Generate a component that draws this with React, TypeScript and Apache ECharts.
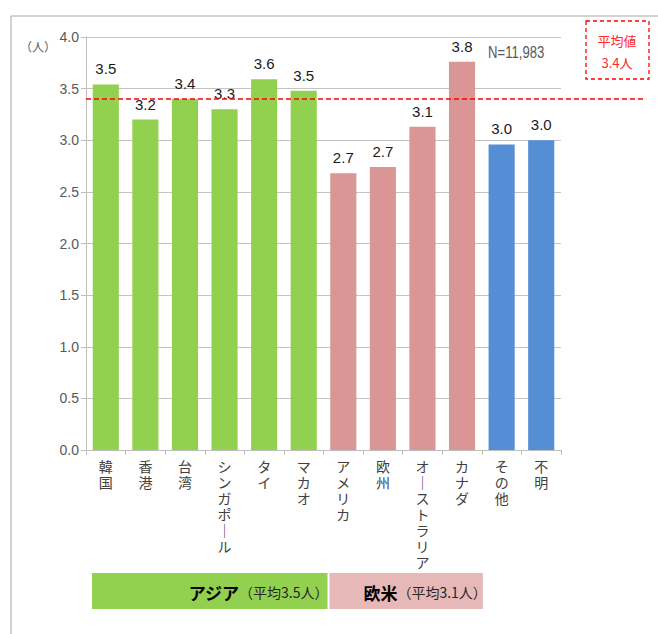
import React, { useEffect, useRef } from "react";
import * as echarts from "echarts";

const categories = ["韓国", "香港", "台湾", "シンガポール", "タイ", "マカオ", "アメリカ", "欧州", "オーストラリア", "カナダ", "その他", "不明"];
const values = [3.54, 3.2, 3.4, 3.3, 3.59, 3.48, 2.68, 2.74, 3.13, 3.76, 2.96, 3.0];
const groupOf = ["asia", "asia", "asia", "asia", "asia", "asia", "west", "west", "west", "west", "other", "other"];
const average = 3.4;
const sampleLabel = "N=11,983";
const unitLabel = "（人）";
const asiaName = "アジア";
const asiaNote = "（平均3.5人）";
const westName = "欧米";
const westNote = "（平均3.1人）";
const yMin = 0;
const yMax = 4;
const yInterval = 0.5;

const groupColors: Record<string, string> = {
  asia: "#92d050",
  west: "#d99694",
  other: "#558ed5",
};

const LATIN = "'Liberation Sans', Arial, 'Noto Sans CJK JP', sans-serif";
const CJK = "'Noto Sans CJK JP', 'Liberation Sans', sans-serif";

export default function App() {
  const ref = useRef<HTMLDivElement>(null);
  useEffect(() => {
    document.body.style.margin = "0";
    const chart = echarts.init(ref.current as HTMLDivElement, null, { renderer: "svg" });
    chart.setOption({
      animation: false,
      backgroundColor: "#ffffff",
      grid: { left: 86, top: 37, right: 97, bottom: 184, containLabel: false },
      xAxis: {
        type: "category",
        data: categories,
        axisLine: { lineStyle: { color: "#bfbfbf", width: 1 } },
        axisTick: { show: true, length: 5, lineStyle: { color: "#bfbfbf" } },
        axisLabel: {
          interval: 0,
          margin: 9,
          color: "#404040",
          fontFamily: LATIN,
          fontSize: 14,
          lineHeight: 16,
          verticalAlign: "top",
          formatter: (v: string) =>
            v
              .split("")
              .map((c) => (c === "ー" ? "｜" : c))
              .join("\n"),
        },
      },
      yAxis: {
        type: "value",
        min: yMin,
        max: yMax,
        interval: yInterval,
        axisLine: { show: true, lineStyle: { color: "#bfbfbf", width: 1 } },
        axisTick: { show: true, length: 5, lineStyle: { color: "#bfbfbf" } },
        splitLine: { lineStyle: { color: "#c4c4c4", width: 1 } },
        axisLabel: {
          color: "#595959",
          fontFamily: LATIN,
          fontSize: 14,
          margin: 7,
          formatter: (v: number) => v.toFixed(1),
        },
      },
      series: [
        {
          type: "bar",
          data: values.map((v, i) => ({ value: v, itemStyle: { color: groupColors[groupOf[i]] } })),
          barCategoryGap: "34%",
          label: {
            show: true,
            position: "top",
            distance: 8,
            color: "#1a1a1a",
            fontFamily: LATIN,
            fontSize: 15,
            formatter: (p: any) => Number(p.value).toFixed(1),
          },
        },
      ],
    });

    const avgY = chart.convertToPixel({ yAxisIndex: 0 }, average) as number;
    const leftX = chart.convertToPixel({ xAxisIndex: 0 }, 0) as number;
    const catW = (chart.convertToPixel({ xAxisIndex: 0 }, 1) as number) - leftX;
    const plotLeft = leftX - catW / 2;
    const boundary = (i: number) => plotLeft + catW * i;

    chart.setOption({
      graphic: [
        { type: "line", shape: { x1: 11, y1: 16, x2: 658, y2: 16 }, style: { stroke: "#a6a6a6", lineWidth: 1 }, silent: true },
        { type: "line", shape: { x1: 11, y1: 16, x2: 11, y2: 634 }, style: { stroke: "#a6a6a6", lineWidth: 1 }, silent: true },
        {
          type: "line",
          shape: { x1: plotLeft, y1: avgY, x2: 645, y2: avgY },
          style: { stroke: "#ff0000", lineWidth: 1.5, lineDash: [5, 3] },
          z: 100,
          silent: true,
        },
        {
          type: "rect",
          shape: { x: 586, y: 21, width: 63, height: 58 },
          style: { fill: "none", stroke: "#ff0000", lineWidth: 1.3, lineDash: [4, 3] },
          silent: true,
        },
        {
          type: "text",
          x: 617,
          y: 40,
          style: { text: "平均値", fill: "#ff2a2a", font: `13px ${CJK}`, textAlign: "center", textVerticalAlign: "middle" },
        },
        {
          type: "text",
          x: 617,
          y: 62,
          style: { text: `${average.toFixed(1)}人`, fill: "#ff2a2a", font: `13px ${CJK}`, textAlign: "center", textVerticalAlign: "middle" },
        },
        {
          type: "text",
          x: 488,
          y: 53,
          scaleX: 0.82,
          style: { text: sampleLabel, fill: "#595959", font: `16px ${LATIN}`, textAlign: "left", textVerticalAlign: "middle" },
        },
        {
          type: "text",
          x: 38,
          y: 46,
          style: { text: unitLabel, fill: "#595959", font: `12px ${CJK}`, textAlign: "center", textVerticalAlign: "middle" },
        },
        {
          type: "rect",
          shape: { x: 92, y: 573, width: boundary(6) + 4 - 92, height: 36 },
          style: { fill: "#92d050" },
          silent: true,
        },
        {
          type: "rect",
          shape: { x: boundary(6) + 6, y: 573, width: boundary(10) + 1 - (boundary(6) + 6), height: 36 },
          style: { fill: "#e6b9b8" },
          silent: true,
        },
        {
          type: "text",
          x: boundary(6) + 5,
          y: 592,
          style: {
            text: `{b|${asiaName}}{s|${asiaNote}}`,
            textAlign: "right",
            textVerticalAlign: "middle",
            rich: {
              b: { fontSize: 17, fontWeight: "bold", fontFamily: CJK, fill: "#000000" },
              s: { fontSize: 14, fontFamily: CJK, fill: "#262626" },
            },
          },
        },
        {
          type: "text",
          x: boundary(10) + 5,
          y: 592,
          style: {
            text: `{b|${westName}}{s|${westNote}}`,
            textAlign: "right",
            textVerticalAlign: "middle",
            rich: {
              b: { fontSize: 17, fontWeight: "bold", fontFamily: CJK, fill: "#000000" },
              s: { fontSize: 14, fontFamily: CJK, fill: "#262626" },
            },
          },
        },
      ],
    });
    return () => chart.dispose();
  }, []);
  return <div ref={ref} style={{ width: 658, height: 634 }} />;
}
